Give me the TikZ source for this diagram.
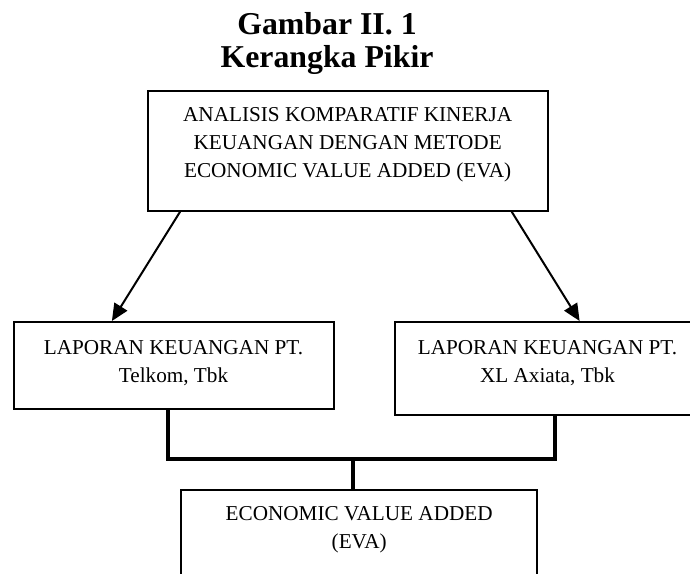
\documentclass[tikz,border=0pt]{standalone}
\usepackage{fontspec}
\setmainfont{Liberation Serif}
\usetikzlibrary{positioning,calc,arrows.meta}

\begin{document}
\begin{tikzpicture}[
    x=0.5pt, y=-0.5pt,
    box/.style={draw, line width=1pt, inner sep=0pt},
    txt/.style={anchor=north, inner sep=0pt, align=center, font=\fontsize{10.6}{14}\selectfont},
    judul/.style={anchor=north, inner sep=0pt, align=center, font=\fontsize{15.9}{16.5}\selectfont\bfseries},
    arr/.style={line width=1pt, -{Triangle[length=8.5pt, width=7.5pt]}},
    link/.style={line width=1.9pt}
]
\clip (0,0) rectangle (690,573);

% Title
\node[judul] (T) at (327,12.5) {Gambar II. 1\\Kerangka Pikir};

% Boxes
\node[box, minimum width=200pt, minimum height=60pt] (A) at (347.7,150.7) {};
\node[box, minimum width=160pt, minimum height=43.3pt] (L1) at (173.5,365.3) {};
\node[box, minimum width=152.5pt, minimum height=46.7pt] (L2) at (547.5,368.7) {};
\node[box, minimum width=178pt, minimum height=55pt] (E) at (359.2,544.7) {};

% Box texts (top aligned)
\node[txt] (At) at ([yshift=-8.7pt]A.north) {ANALISIS KOMPARATIF KINERJA\\KEUANGAN DENGAN METODE\\ECONOMIC VALUE ADDED (EVA)};
\node[txt] (L1t) at ([yshift=-9.5pt]L1.north) {LAPORAN KEUANGAN PT.\\Telkom, Tbk};
\node[txt] (L2t) at ([yshift=-9.5pt]L2.north) {LAPORAN KEUANGAN PT.\\XL Axiata, Tbk};
\node[txt] (Et) at ([yshift=-8.9pt]E.north) {ECONOMIC VALUE ADDED\\(EVA)};

% Arrows down to the reports
\draw[arr] ([xshift=16.7pt]A.south west) -- ([xshift=49.7pt]L1.north west);
\draw[arr] ([xshift=-18.5pt]A.south east) -- ([xshift=92.8pt]L2.north west);

% Joining the reports into EVA
\coordinate (J) at (353.3,458.7);
\draw[link] ([xshift=77.8pt]L1.south west) |- (J) -| ([xshift=80.3pt]L2.south west);
\draw[link] (J) -- (J |- E.north);

\end{tikzpicture}
\end{document}
